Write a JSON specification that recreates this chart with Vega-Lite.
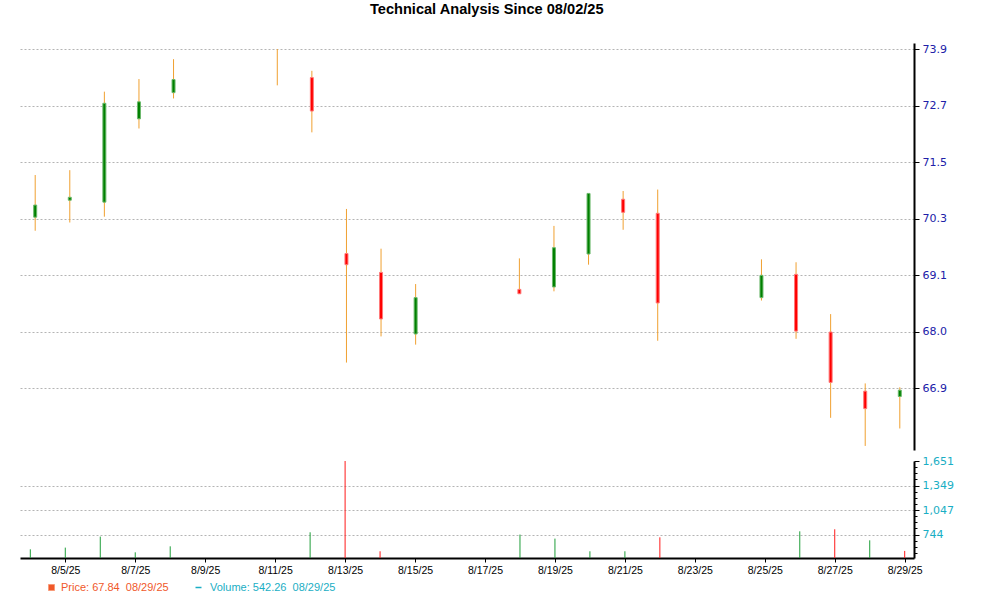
{
  "$schema": "https://vega.github.io/schema/vega-lite/v6.json",
  "background": "white",
  "padding": {"left": 20, "top": 2, "right": 5, "bottom": 5},
  "title": {
    "text": "Technical Analysis Since 08/02/25",
    "font": "Liberation Sans",
    "fontSize": 14.6,
    "fontWeight": "bold",
    "color": "black",
    "anchor": "middle",
    "offset": 26
  },
  "datasets": {
    "ohlc": [
      {"day": 4, "open": 70.43, "high": 71.30, "low": 70.15, "close": 70.68, "dir": "up", "volume": 562, "vdir": "up"},
      {"day": 5, "open": 70.78, "high": 71.40, "low": 70.32, "close": 70.84, "dir": "up", "volume": 583, "vdir": "up"},
      {"day": 6, "open": 70.74, "high": 73.02, "low": 70.44, "close": 72.78, "dir": "up", "volume": 719, "vdir": "up"},
      {"day": 7, "open": 72.46, "high": 73.28, "low": 72.26, "close": 72.81, "dir": "up", "volume": 525, "vdir": "up"},
      {"day": 8, "open": 73.00, "high": 73.69, "low": 72.88, "close": 73.27, "dir": "up", "volume": 599, "vdir": "up"},
      {"day": 11, "open": null, "high": 73.90, "low": 73.15, "close": null, "dir": "up", "volume": null, "vdir": "up"},
      {"day": 12, "open": 73.31, "high": 73.45, "low": 72.18, "close": 72.62, "dir": "down", "volume": 772, "vdir": "up"},
      {"day": 13, "open": 69.68, "high": 70.60, "low": 67.43, "close": 69.45, "dir": "down", "volume": 1651, "vdir": "down"},
      {"day": 14, "open": 69.29, "high": 69.78, "low": 67.97, "close": 68.33, "dir": "down", "volume": 538, "vdir": "down"},
      {"day": 15, "open": 68.02, "high": 69.05, "low": 67.80, "close": 68.77, "dir": "up", "volume": null, "vdir": "up"},
      {"day": 18, "open": 68.94, "high": 69.58, "low": 68.85, "close": 68.85, "dir": "down", "volume": 744, "vdir": "up"},
      {"day": 19, "open": 68.99, "high": 70.25, "low": 68.90, "close": 69.80, "dir": "up", "volume": 694, "vdir": "up"},
      {"day": 20, "open": 69.67, "high": 70.92, "low": 69.45, "close": 70.92, "dir": "up", "volume": 538, "vdir": "up"},
      {"day": 21, "open": 70.80, "high": 70.97, "low": 70.17, "close": 70.53, "dir": "down", "volume": 538, "vdir": "up"},
      {"day": 22, "open": 70.51, "high": 71.00, "low": 67.88, "close": 68.66, "dir": "down", "volume": 710, "vdir": "down"},
      {"day": 25, "open": 68.77, "high": 69.56, "low": 68.71, "close": 69.23, "dir": "up", "volume": null, "vdir": "up"},
      {"day": 26, "open": 69.25, "high": 69.50, "low": 67.92, "close": 68.08, "dir": "down", "volume": 784, "vdir": "up"},
      {"day": 27, "open": 68.06, "high": 68.43, "low": 66.29, "close": 67.02, "dir": "down", "volume": 809, "vdir": "down"},
      {"day": 28, "open": 66.84, "high": 67.00, "low": 65.71, "close": 66.48, "dir": "down", "volume": 673, "vdir": "up"},
      {"day": 29, "open": 66.73, "high": 66.92, "low": 66.07, "close": 66.86, "dir": "up", "volume": 542.26, "vdir": "down"}
    ],
    "keyrows": [
      {"pkey": "Price: 67.84\u00a0 08/29/25", "vkey": "Volume: 542.26\u00a0 08/29/25"}
    ]
  },
  "spacing": 5,
  "resolve": {"scale": {"color": "independent", "x": "independent", "y": "independent"}},
  "vconcat": [
    {
      "width": 894,
      "height": 407,
      "data": {"name": "ohlc"},
      "encoding": {
        "x": {
          "field": "day",
          "type": "quantitative",
          "scale": {"domain": [3.705, 29.266], "nice": false, "zero": false},
          "axis": null
        }
      },
      "layer": [
        {
          "mark": {"type": "rule", "color": "#f0a030", "strokeWidth": 1},
          "encoding": {
            "y": {
              "field": "low",
              "type": "quantitative",
              "scale": {"domain": [65.626, 74.024], "nice": false, "zero": false},
              "axis": {
                "orient": "right",
                "title": null,
                "values": [66.9, 68.0667, 69.2333, 70.4, 71.5667, 72.7333, 73.9],
                "labelExpr": "datum.value < 67.5 ? '66.9' : datum.value < 68.6 ? '68.0' : datum.value < 69.8 ? '69.1' : datum.value < 71 ? '70.3' : datum.value < 72.1 ? '71.5' : datum.value < 73.3 ? '72.7' : '73.9'",
                "grid": true,
                "gridColor": "#b4b4b4",
                "gridDash": [2, 2],
                "domainColor": "black",
                "domainWidth": 2,
                "tickColor": "black",
                "tickSize": 5,
                "labelColor": "#2020a8",
                "labelFont": "DejaVu Sans",
                "labelFontSize": 11,
                "labelPadding": 3,
                "labelOverlap": false,
                "labelFlush": false
              }
            },
            "y2": {"field": "high"}
          }
        },
        {
          "mark": {"type": "bar", "size": 3, "strokeWidth": 1},
          "encoding": {
            "y": {"field": "open", "type": "quantitative"},
            "y2": {"field": "close"},
            "color": {
              "field": "dir",
              "type": "nominal",
              "scale": {"domain": ["up", "down"], "range": ["#008000", "#ff0000"]},
              "legend": null
            },
            "stroke": {
              "field": "dir",
              "type": "nominal",
              "scale": {"domain": ["up", "down"], "range": ["#6cb86c", "#ff7a7a"]},
              "legend": null
            }
          }
        }
      ]
    },
    {
      "width": 894,
      "height": 97,
      "layer": [
        {
          "data": {"name": "ohlc"},
          "mark": {"type": "rule", "strokeWidth": 1},
          "encoding": {
            "x": {
              "field": "day",
              "type": "quantitative",
              "scale": {"domain": [3.705, 29.266], "nice": false, "zero": false},
              "axis": {
                "title": null,
                "values": [5, 7, 9, 11, 13, 15, 17, 19, 21, 23, 25, 27, 29],
                "labelExpr": "'8/' + datum.value + '/25'",
                "grid": false,
                "domainColor": "black",
                "domainWidth": 2,
                "tickColor": "black",
                "tickSize": 4,
                "labelColor": "black",
                "labelFont": "Liberation Sans",
                "labelFontSize": 10.5,
                "labelPadding": 3,
                "labelOverlap": false,
                "labelFlush": false
              }
            },
            "y": {
              "field": "volume",
              "type": "quantitative",
              "scale": {"domain": [455, 1651], "nice": false, "zero": false},
              "axis": {
                "orient": "right",
                "title": null,
                "values": [1651, 1575.45, 1499.9, 1424.35, 1348.8, 1273.25, 1197.7, 1122.15, 1046.6, 971.05, 895.5, 819.95, 744.4, 668.85, 593.3, 517.75],
                "labelExpr": "round((1651 - datum.value) / 75.55) % 4 == 0 ? format(datum.value, ',.0f') : ''",
                "grid": true,
                "gridColor": "#b4b4b4",
                "gridDash": [2, 2],
                "gridOpacity": {"condition": {"test": "round((1651 - datum.value) / 75.55) % 4 == 0 && datum.value < 1600", "value": 1}, "value": 0},
                "domainColor": "black",
                "domainWidth": 2,
                "tickColor": "black",
                "tickSize": {"condition": {"test": "round((1651 - datum.value) / 75.55) % 4 == 0", "value": 5}, "value": 3},
                "labelColor": "#1aaec4",
                "labelFont": "DejaVu Sans",
                "labelFontSize": 11,
                "labelPadding": 3,
                "labelOverlap": false,
                "labelFlush": false
              }
            },
            "y2": {"datum": 455},
            "color": {
              "field": "vdir",
              "type": "nominal",
              "scale": {"domain": ["up", "down"], "range": ["#1f9e3a", "#ff1a1a"]},
              "legend": null
            }
          }
        },
        {
          "data": {"name": "keyrows"},
          "transform": [{"filter": "datum.pkey == null"}],
          "mark": {"type": "point", "filled": true, "strokeWidth": 1.5, "opacity": 1},
          "encoding": {
            "fill": {
              "field": "pkey",
              "type": "nominal",
              "scale": {"domain": ["Price: 67.84\u00a0 08/29/25"], "range": ["#f0582a"]},
              "legend": {
                "orient": "none",
                "legendX": 26,
                "legendY": 539,
                "title": null,
                "symbolType": "square",
                "symbolSize": 36,
                "symbolStrokeColor": "#f89a78",
                "symbolStrokeWidth": 1,
                "symbolOpacity": 1,
                "labelColor": "#f0582a",
                "labelFont": "Liberation Sans",
                "labelFontSize": 11,
                "labelOffset": 4,
                "labelLimit": 300
              }
            },
            "shape": {
              "field": "vkey",
              "type": "nominal",
              "scale": {"domain": ["Volume: 542.26\u00a0 08/29/25"], "range": ["stroke"]},
              "legend": {
                "orient": "none",
                "legendX": 173,
                "legendY": 539,
                "title": null,
                "symbolType": "stroke",
                "symbolSize": 36,
                "symbolFillColor": "#1aaec4",
                "symbolStrokeColor": "#1aaec4",
                "symbolStrokeWidth": 1.5,
                "symbolOpacity": 1,
                "labelColor": "#1aaec4",
                "labelFont": "Liberation Sans",
                "labelFontSize": 11,
                "labelOffset": 6,
                "labelLimit": 300
              }
            }
          }
        }
      ]
    }
  ],
  "config": {
    "view": {"stroke": null}
  }
}
